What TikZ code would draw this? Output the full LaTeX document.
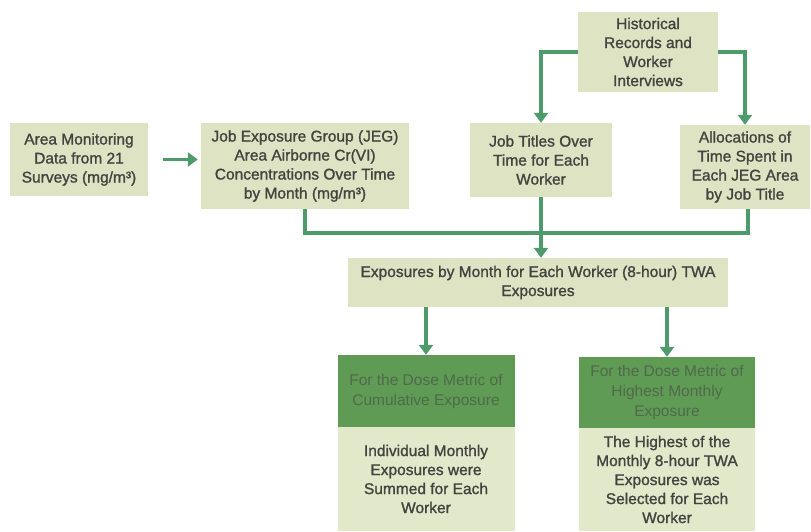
\documentclass[tikz,border=0pt]{standalone}
\usepackage{fontspec}
\setmainfont{Liberation Sans}[FakeBold=1.3]
\newfontfamily\lightfont{Liberation Sans}
\usetikzlibrary{arrows.meta}
\definecolor{boxfill}{HTML}{DEE4C3}
\definecolor{boxfilltwo}{HTML}{E2E8CA}
\definecolor{darkfill}{HTML}{5F9B55}
\definecolor{txt}{HTML}{434440}
\definecolor{darktxt}{HTML}{4F6A4A}
\definecolor{arrowc}{HTML}{4E9A6B}
\begin{document}
\begin{tikzpicture}[x=1pt,y=-1pt,
  box/.style={rectangle,fill=boxfill,inner sep=0pt,align=center,text=txt,
    font=\fontsize{15.5}{19}\selectfont},
  dbox/.style={rectangle,fill=darkfill,inner sep=0pt,align=center,text=darktxt,
    font=\lightfont\fontsize{15.5}{20}\selectfont},
  lbox/.style={box,fill=boxfilltwo},
  conn/.style={draw=arrowc,line width=3.5pt},
  arr/.style={conn,-{Triangle[length=10pt,width=14pt]}}]
\useasboundingbox (0,0) rectangle (811,531);
\node[box,minimum width=138,minimum height=73] (area) at (79,159.5)
  {Area Monitoring\\Data from 21\\Surveys (mg/m³)};
\node[box,minimum width=208,minimum height=86] (jeg) at (305,166)
  {Job Exposure Group (JEG)\\Area Airborne Cr(VI)\\Concentrations Over Time\\by Month (mg/m³)};
\node[box,minimum width=140,minimum height=80] (hist) at (648,52)
  {Historical\\Records and\\Worker\\Interviews};
\node[box,minimum width=142,minimum height=74] (jobt) at (541,160)
  {Job Titles Over\\Time for Each\\Worker};
\node[box,minimum width=130,minimum height=84] (alloc) at (745,167)
  {Allocations of\\Time Spent in\\Each JEG Area\\by Job Title};
\node[box,minimum width=380,minimum height=49] (expo) at (538,282.5)
  {Exposures by Month for Each Worker (8-hour) TWA\\Exposures};
\node[dbox,minimum width=177,minimum height=72] (cumd) at (426,391)
  {For the Dose Metric of\\Cumulative Exposure};
\node[lbox,minimum width=177,minimum height=104] (cuml) at (426,479)
  {Individual Monthly\\Exposures were\\Summed for Each\\Worker};
\node[dbox,minimum width=176,minimum height=71] (highd) at (667,392.5)
  {For the Dose Metric of\\Highest Monthly\\Exposure};
\node[lbox,minimum width=176,minimum height=103] (highl) at (667,479.5)
  {The Highest of the\\Monthly 8-hour TWA\\Exposures was\\Selected for Each\\Worker};
\coordinate (m) at (541,233);
\draw[arr] ([xshift=15pt]area.east) -- ([xshift=-3pt]area.east -| jeg.west);
\draw[arr] (hist.west) -| (jobt.north);
\draw[arr] (hist.east) -| (alloc.north);
\draw[conn] (jeg.south) |- (m);
\draw[conn] ([xshift=3pt]alloc.south) |- (m);
\draw[arr] (jobt.south) -- (expo.north -| jobt.south);
\draw[arr] (expo.south -| cumd.north) -- (cumd.north);
\draw[arr] (expo.south -| highd.north) -- (highd.north);
\end{tikzpicture}
\end{document}
